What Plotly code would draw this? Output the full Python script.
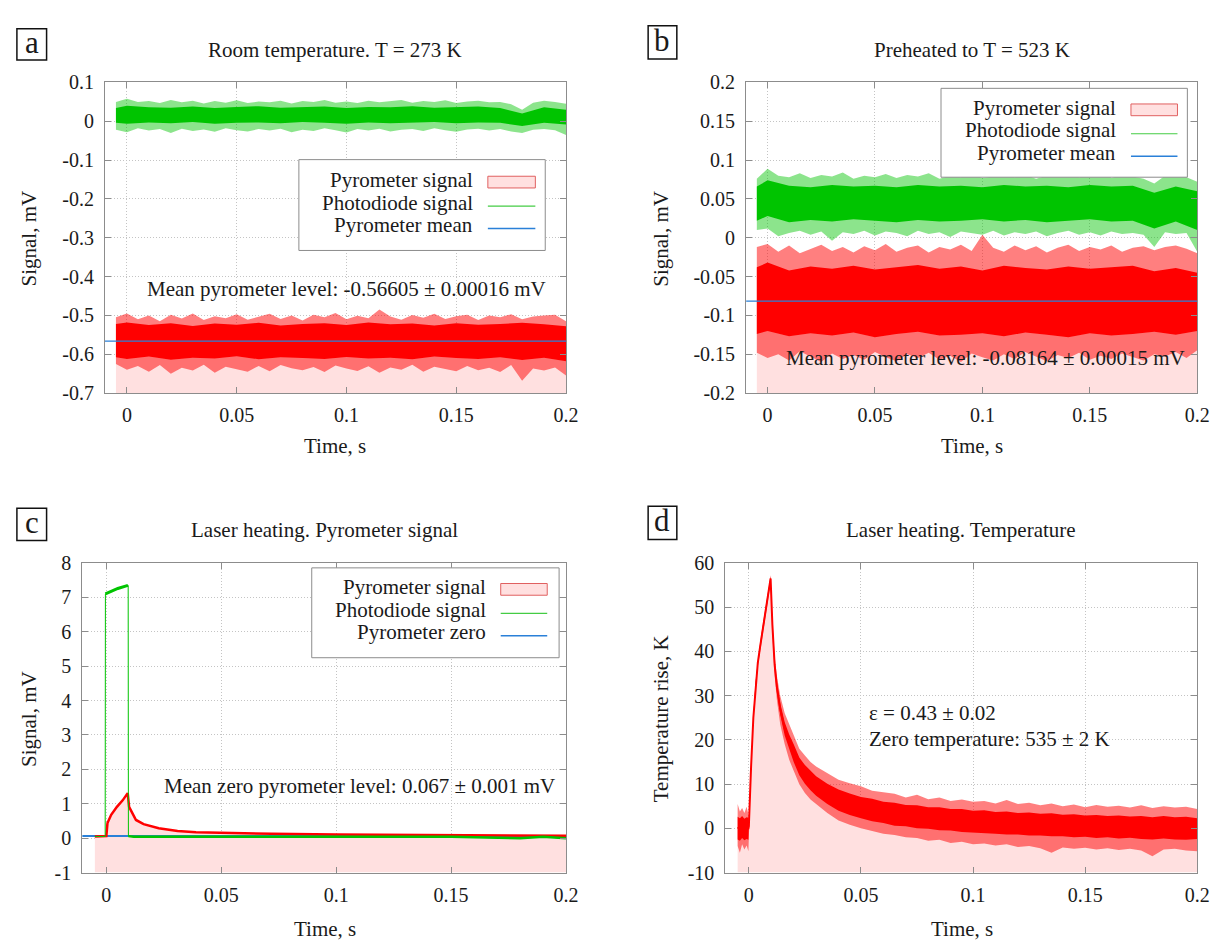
import plotly.graph_objects as go

W, H = 1226, 942
FONT = "Liberation Serif"

# ---------------- data ----------------
T = [-0.005, 0.0, 0.005, 0.01, 0.015, 0.02, 0.025, 0.03, 0.035, 0.04, 0.045, 0.05, 0.055, 0.06,
     0.065, 0.07, 0.075, 0.08, 0.085, 0.09, 0.095, 0.1, 0.105, 0.11, 0.115, 0.12, 0.125, 0.13,
     0.135, 0.14, 0.145, 0.15, 0.155, 0.16, 0.165, 0.17, 0.175, 0.18, 0.185, 0.19, 0.195, 0.2]
TC = [-0.005, 0.0, 0.01, 0.02, 0.03, 0.04, 0.05, 0.06, 0.07, 0.08, 0.09, 0.1, 0.11, 0.12, 0.13,
      0.14, 0.15, 0.16, 0.17, 0.18, 0.19, 0.2]

# panel a : room temperature
a_green_hi = [0.050, 0.058, 0.050, 0.052, 0.047, 0.055, 0.049, 0.053, 0.046, 0.052, 0.048, 0.054, 0.047, 0.051,
              0.049, 0.053, 0.046, 0.052, 0.050, 0.055, 0.048, 0.051, 0.047, 0.053, 0.049, 0.052, 0.055, 0.048,
              0.052, 0.050, 0.054, 0.047, 0.051, 0.053, 0.049, 0.050, 0.044, 0.030, 0.048, 0.053, 0.050, 0.045]
a_green_lo = [-0.022, -0.028, -0.018, -0.024, -0.020, -0.030, -0.019, -0.025, -0.021, -0.027, -0.018, -0.023,
              -0.026, -0.020, -0.024, -0.019, -0.028, -0.022, -0.025, -0.018, -0.023, -0.029, -0.020, -0.024,
              -0.019, -0.026, -0.022, -0.020, -0.025, -0.018, -0.023, -0.027, -0.021, -0.019, -0.024, -0.020,
              -0.026, -0.030, -0.022, -0.020, -0.023, -0.035]
a_green_core_hi = [0.034, 0.040, 0.036, 0.035, 0.038, 0.034, 0.037, 0.039, 0.035, 0.036, 0.038, 0.034, 0.037,
                   0.036, 0.039, 0.035, 0.037, 0.038, 0.034, 0.020, 0.036, 0.030]
a_green_core_lo = [-0.004, -0.006, -0.003, -0.005, -0.002, -0.006, -0.004, -0.003, -0.005, -0.002, -0.004,
                   -0.006, -0.003, -0.005, -0.004, -0.002, -0.005, -0.003, -0.004, -0.012, -0.004, -0.008]
a_red_hi = [-0.505, -0.495, -0.510, -0.500, -0.515, -0.498, -0.508, -0.495, -0.512, -0.502, -0.507, -0.497,
            -0.511, -0.503, -0.496, -0.509, -0.500, -0.513, -0.498, -0.505, -0.494, -0.510, -0.501, -0.507,
            -0.485, -0.503, -0.511, -0.499, -0.506, -0.496, -0.509, -0.502, -0.498, -0.512, -0.500, -0.505,
            -0.497, -0.510, -0.503, -0.500, -0.498, -0.515]
a_red_lo = [-0.625, -0.640, -0.630, -0.645, -0.628, -0.650, -0.635, -0.642, -0.627, -0.648, -0.632, -0.638,
            -0.645, -0.630, -0.644, -0.628, -0.636, -0.641, -0.633, -0.646, -0.629, -0.637, -0.643, -0.631,
            -0.648, -0.634, -0.640, -0.627, -0.645, -0.632, -0.638, -0.644, -0.630, -0.641, -0.635, -0.646,
            -0.628, -0.668, -0.637, -0.642, -0.634, -0.655]
a_red_core_hi = [-0.522, -0.518, -0.525, -0.520, -0.527, -0.521, -0.524, -0.519, -0.526, -0.522, -0.520, -0.525,
                 -0.518, -0.523, -0.521, -0.526, -0.520, -0.524, -0.522, -0.519, -0.523, -0.528]
a_red_core_lo = [-0.608, -0.612, -0.606, -0.614, -0.609, -0.611, -0.605, -0.613, -0.608, -0.610, -0.612, -0.607,
                 -0.611, -0.609, -0.613, -0.606, -0.610, -0.612, -0.608, -0.615, -0.609, -0.618]
a_mean = -0.56605

# panel b : preheated
b_green_hi = [0.076, 0.089, 0.080, 0.078, 0.083, 0.077, 0.081, 0.079, 0.084, 0.076, 0.080, 0.078, 0.082, 0.077,
              0.081, 0.079, 0.083, 0.076, 0.080, 0.078, 0.082, 0.077, 0.079, 0.083, 0.078, 0.081, 0.076, 0.080,
              0.079, 0.082, 0.078, 0.080, 0.092, 0.077, 0.081, 0.079, 0.076, 0.070, 0.080, 0.082, 0.078, 0.072]
b_green_lo = [0.010, 0.012, 0.002, 0.006, 0.009, 0.004, 0.008, -0.004, 0.007, 0.005, 0.009, 0.003, 0.008, 0.006,
              0.002, 0.009, 0.005, 0.007, 0.001, 0.008, 0.006, 0.004, 0.009, 0.003, 0.007, 0.005, 0.008, 0.002,
              0.006, 0.009, 0.004, 0.007, 0.003, 0.008, 0.005, 0.006, 0.004, -0.012, 0.007, 0.005, 0.006, -0.018]
b_green_core_hi = [0.066, 0.074, 0.067, 0.065, 0.068, 0.066, 0.067, 0.065, 0.068, 0.066, 0.067, 0.065, 0.068,
                   0.066, 0.067, 0.065, 0.068, 0.066, 0.067, 0.058, 0.066, 0.060]
b_green_core_lo = [0.022, 0.028, 0.020, 0.023, 0.021, 0.024, 0.022, 0.020, 0.023, 0.021, 0.022, 0.024, 0.021,
                   0.023, 0.020, 0.022, 0.024, 0.021, 0.022, 0.012, 0.021, 0.010]
b_red_hi = [-0.012, -0.008, -0.018, -0.010, -0.020, -0.014, -0.009, -0.017, -0.012, -0.019, -0.011, -0.016,
            -0.008, -0.018, -0.013, -0.010, -0.019, -0.012, -0.015, -0.009, -0.017, 0.004, -0.013, -0.018,
            -0.010, -0.016, -0.011, -0.019, -0.013, -0.009, -0.017, -0.012, -0.015, -0.010, -0.018, -0.013,
            -0.011, -0.016, -0.012, -0.010, -0.014, -0.020]
b_red_lo = [-0.148, -0.155, -0.150, -0.158, -0.146, -0.153, -0.160, -0.149, -0.156, -0.151, -0.157, -0.147,
            -0.154, -0.159, -0.150, -0.155, -0.148, -0.157, -0.152, -0.160, -0.149, -0.154, -0.158, -0.150,
            -0.156, -0.147, -0.153, -0.159, -0.151, -0.155, -0.148, -0.157, -0.152, -0.156, -0.149, -0.154,
            -0.158, -0.150, -0.153, -0.147, -0.155, -0.145]
b_red_core_hi = [-0.038, -0.032, -0.042, -0.037, -0.040, -0.036, -0.041, -0.038, -0.035, -0.040, -0.037, -0.042,
                 -0.036, -0.039, -0.041, -0.037, -0.040, -0.038, -0.036, -0.043, -0.039, -0.045]
b_red_core_lo = [-0.124, -0.120, -0.127, -0.123, -0.126, -0.122, -0.128, -0.124, -0.121, -0.126, -0.125, -0.123,
                 -0.127, -0.122, -0.125, -0.128, -0.123, -0.126, -0.124, -0.121, -0.125, -0.120]
b_mean = -0.08164

# panel c : laser heating, pyrometer signal
c_red_t = [-0.005, -0.001, 0.0, 0.0005, 0.0021, 0.0046, 0.0071, 0.0093, 0.0099, 0.0129, 0.0162, 0.0228,
           0.031, 0.039, 0.05, 0.072, 0.1, 0.15, 0.2]
c_red_v = [0.05, 0.05, 0.06, 0.44, 0.68, 0.91, 1.10, 1.31, 0.91, 0.53, 0.41, 0.29, 0.21, 0.17, 0.15, 0.13,
           0.11, 0.09, 0.07]
c_green_t = [-0.005, -0.0005, -0.0004, 0.002, 0.005, 0.0094, 0.0095, 0.0096, 0.012, 0.05, 0.1, 0.15, 0.18,
             0.19, 0.2]
c_green_v = [0.05, 0.05, 7.10, 7.18, 7.26, 7.35, 7.35, 0.06, 0.04, 0.04, 0.04, 0.04, 0.0, 0.04, 0.0]
c_plateau_t = [-0.0004, 0.002, 0.005, 0.0094]
c_plateau_v = [7.10, 7.18, 7.26, 7.35]
c_zero = 0.067

# panel d : temperature
Td = [-0.005, -0.004, -0.003, -0.002, -0.001, -0.0002, 0.0, 0.0005, 0.001, 0.002, 0.003, 0.004, 0.005,
      0.006, 0.007, 0.008, 0.009, 0.0097, 0.0105, 0.0115, 0.0125, 0.014, 0.016, 0.018, 0.02, 0.0225, 0.025,
      0.0275, 0.03, 0.035, 0.04, 0.045, 0.05, 0.055, 0.06, 0.065, 0.07, 0.075, 0.08, 0.085, 0.09, 0.095, 0.1,
      0.105, 0.11, 0.115, 0.12, 0.125, 0.13, 0.135, 0.14, 0.145, 0.15, 0.155, 0.16, 0.165, 0.17, 0.175, 0.18,
      0.185, 0.19, 0.195, 0.2]
d_mid = [0.0, 0.3, -0.2, 0.4, -0.1, 0.0, 0.5, 8.0, 14.0, 25.0, 32.5, 37.5, 41.0, 44.5, 47.5, 50.5, 54.0, 56.5,
         46.0, 37.0, 32.0, 27.0, 22.5, 19.5, 17.0, 14.0, 12.2, 10.8, 9.6, 7.8, 6.4, 5.4, 4.7, 4.1, 3.6, 3.2,
         2.9, 2.6, 2.4, 2.2, 2.0, 1.8, 1.6, 1.5, 1.3, 1.2, 1.1, 1.0, 0.9, 0.8, 0.7, 0.6, 0.5, 0.4, 0.4, 0.3,
         0.3, 0.2, 0.1, 0.2, 0.1, 0.0, 0.0]
d_core_hi = [2.6, 2.3, 2.8, 2.2, 2.5, 2.4, 1.5, 8.6, 14.6, 25.6, 33.1, 38.1, 41.6, 45.1, 48.1, 51.1, 54.6, 57.0,
             46.8, 38.0, 33.2, 28.3, 24.0, 21.2, 19.0, 16.0, 14.3, 13.0, 11.8, 10.1, 8.8, 7.9, 7.1, 6.7, 6.0,
             5.8, 5.3, 5.2, 4.8, 4.8, 4.4, 4.4, 4.0, 4.1, 3.7, 3.8, 3.5, 3.6, 3.3, 3.4, 3.1, 3.2, 2.9, 3.0, 2.8,
             2.9, 2.7, 2.8, 2.5, 2.8, 2.5, 2.6, 2.3]
d_core_lo = [-2.5, -2.8, -2.2, -2.7, -2.4, -2.6, -0.5, 7.4, 13.4, 24.4, 31.9, 36.9, 40.4, 43.9, 46.9, 49.9, 53.4,
             56.0, 45.2, 36.0, 30.8, 25.7, 21.0, 17.8, 15.0, 12.0, 10.1, 8.6, 7.4, 5.5, 4.0, 3.0, 2.3, 1.6, 1.2,
             0.6, 0.5, 0.0, -0.1, -0.4, -0.5, -0.8, -0.9, -1.1, -1.2, -1.4, -1.4, -1.6, -1.6, -1.8, -1.8, -2.0,
             -1.9, -2.2, -2.0, -2.3, -2.1, -2.4, -2.5, -2.3, -2.5, -2.6, -2.4]
d_out_hi = [5.5, 3.8, 4.6, 3.5, 4.9, 3.2, 2.0, 9.0, 15.0, 26.0, 33.5, 38.5, 42.0, 45.5, 48.5, 51.5, 55.0, 57.3,
            47.5, 39.0, 34.5, 30.0, 26.0, 23.5, 21.0, 18.0, 16.5, 15.0, 14.0, 12.5, 11.0, 10.2, 9.5, 8.5, 8.2,
            7.8, 7.0, 7.6, 6.6, 7.0, 6.2, 6.5, 6.0, 6.2, 5.6, 6.4, 5.5, 5.8, 5.2, 5.6, 5.0, 5.4, 4.8, 5.3, 4.9,
            5.1, 4.7, 5.2, 4.6, 5.0, 4.7, 4.9, 4.4]
d_out_lo = [-4.0, -5.5, -3.6, -4.8, -3.9, -5.2, -1.5, 7.0, 13.0, 24.0, 31.5, 36.5, 40.0, 43.5, 46.5, 49.5, 53.0,
            55.5, 44.0, 34.5, 29.0, 23.5, 19.0, 15.5, 13.0, 10.0, 8.0, 6.5, 5.5, 3.5, 1.8, 0.8, 0.0, -0.6, -1.2,
            -1.5, -2.0, -2.2, -2.8, -2.6, -3.3, -3.0, -3.6, -3.4, -3.9, -3.6, -4.2, -4.0, -4.5, -5.5, -4.3, -4.6,
            -4.4, -4.8, -4.5, -4.9, -4.6, -5.0, -6.3, -4.8, -4.6, -5.0, -5.2]

# axis ticks
x_ticks = [0, 0.05, 0.1, 0.15, 0.2]
x_labels = ["0", "0.05", "0.1", "0.15", "0.2"]
a_ticks = [0.1, 0, -0.1, -0.2, -0.3, -0.4, -0.5, -0.6, -0.7]
a_labels = ["0.1", "0", "-0.1", "-0.2", "-0.3", "-0.4", "-0.5", "-0.6", "-0.7"]
b_ticks = [0.2, 0.15, 0.1, 0.05, 0, -0.05, -0.1, -0.15, -0.2]
b_labels = ["0.2", "0.15", "0.1", "0.05", "0", "-0.05", "-0.1", "-0.15", "-0.2"]
c_ticks = [8, 7, 6, 5, 4, 3, 2, 1, 0, -1]
c_labels = ["8", "7", "6", "5", "4", "3", "2", "1", "0", "-1"]
d_ticks = [60, 50, 40, 30, 20, 10, 0, -10]
d_labels = ["60", "50", "40", "30", "20", "10", "0", "-10"]

# ---------------- styling ----------------
RED = "#ff0000"
RED_LIGHT = "rgba(255,0,0,0.5)"
GREEN = "#00c400"
GREEN_LIGHT = "rgba(0,196,0,0.45)"
BLUE = "#2a80d8"
PINK = "#ffe0e0"
BORDER = "#8c8c8c"
TXT = 21
TICK = 20


def px(x):
    return x / W


def py(y):
    return 1 - y / H


fig = go.Figure()

panels = {
    "a": dict(xa="x", ya="y", xr=[-0.01, 0.2], yr=[-0.7, 0.1], dom=(98, 564, 65, 383), yt=(a_ticks, a_labels)),
    "b": dict(xa="x2", ya="y2", xr=[-0.01, 0.2], yr=[-0.2, 0.2], dom=(746, 1202, 65, 383), yt=(b_ticks, b_labels)),
    "c": dict(xa="x3", ya="y3", xr=[-0.0105, 0.2], yr=[-1, 8], dom=(75, 564, 557, 874), yt=(c_ticks, c_labels)),
    "d": dict(xa="x4", ya="y4", xr=[-0.0105, 0.2], yr=[-10, 60], dom=(725, 1202, 557, 874), yt=(d_ticks, d_labels)),
}


def band(p, t, hi, lo, color):
    fig.add_trace(go.Scatter(x=list(t) + list(t)[::-1], y=list(hi) + list(lo)[::-1], fill="toself",
                             fillcolor=color, line=dict(width=0), mode="lines", hoverinfo="skip",
                             xaxis=p["xa"], yaxis=p["ya"], showlegend=False))


def pink(p, t, top):
    ymin = p["yr"][0]
    fig.add_trace(go.Scatter(x=list(t) + [t[-1], t[0]], y=list(top) + [ymin, ymin], fill="toself",
                             fillcolor=PINK, line=dict(width=0), mode="lines", hoverinfo="skip",
                             xaxis=p["xa"], yaxis=p["ya"], showlegend=False))


def line(p, t, v, color, width):
    fig.add_trace(go.Scatter(x=t, y=v, mode="lines", line=dict(color=color, width=width),
                             xaxis=p["xa"], yaxis=p["ya"], showlegend=False, hoverinfo="skip"))


# panel a
pa = panels["a"]
pink(pa, TC, a_red_core_lo)
band(pa, T, a_red_hi, a_red_lo, RED_LIGHT)
band(pa, TC, a_red_core_hi, a_red_core_lo, RED)
band(pa, T, a_green_hi, a_green_lo, GREEN_LIGHT)
band(pa, TC, a_green_core_hi, a_green_core_lo, GREEN)
line(pa, pa["xr"], [a_mean, a_mean], BLUE, 1.3)

# panel b
pb = panels["b"]
pink(pb, TC, b_red_core_lo)
band(pb, T, b_red_hi, b_red_lo, RED_LIGHT)
band(pb, TC, b_red_core_hi, b_red_core_lo, RED)
band(pb, T, b_green_hi, b_green_lo, GREEN_LIGHT)
band(pb, TC, b_green_core_hi, b_green_core_lo, GREEN)
line(pb, pb["xr"], [b_mean, b_mean], BLUE, 1.3)

# panel c
pc = panels["c"]
pink(pc, c_red_t, c_red_v)
line(pc, pc["xr"], [c_zero, c_zero], BLUE, 2)
line(pc, c_red_t, c_red_v, RED, 2.5)
line(pc, c_green_t, c_green_v, GREEN, 1)
line(pc, c_green_t[7:], c_green_v[7:], GREEN, 2.5)
line(pc, c_plateau_t, c_plateau_v, GREEN, 3)

# panel d
pd_ = panels["d"]
pink(pd_, Td, d_mid)
band(pd_, Td, d_out_hi, d_out_lo, RED_LIGHT)
band(pd_, Td, d_core_hi, d_core_lo, RED)
line(pd_, Td, d_mid, RED, 2)

# axes
layout = dict(width=W, height=H, margin=dict(l=0, r=0, t=0, b=0), paper_bgcolor="white",
              plot_bgcolor="white", showlegend=False)
for i, (k, p) in enumerate(panels.items()):
    sfx = "" if i == 0 else str(i + 1)
    x0, x1, y0, y1 = p["dom"]
    common = dict(showline=True, linecolor=BORDER, linewidth=1, mirror="ticks", ticks="inside",
                  ticklen=6, tickcolor=BORDER, showgrid=True, gridcolor="#c4c4c4", griddash="1px,2px",
                  gridwidth=1, zeroline=False, tickfont=dict(family=FONT, size=TICK, color="#1a1a1a"),
                  fixedrange=True)
    layout["xaxis" + sfx] = dict(common, domain=[px(x0), px(x1)], range=p["xr"], anchor="y" + sfx,
                                 tickvals=x_ticks, ticktext=x_labels, ticklabelstandoff=4)
    layout["yaxis" + sfx] = dict(common, domain=[py(y1), py(y0)], range=p["yr"], anchor="x" + sfx,
                                 tickvals=p["yt"][0], ticktext=p["yt"][1], ticklabelstandoff=6)
fig.update_layout(**layout)

ann = []
shapes = []


def text(s, x, y, size=TXT, xanchor="center", angle=0):
    ann.append(dict(text=s, x=px(x), y=py(y), xref="paper", yref="paper", showarrow=False,
                    xanchor=xanchor, yanchor="middle", textangle=angle,
                    font=dict(family=FONT, size=size, color="#1a1a1a")))


# titles
text("Room temperature. T = 273 K", 331, 32)
text("Preheated to T = 523 K", 974, 32)
text("Laser heating. Pyrometer signal", 320, 523)
text("Laser heating. Temperature", 963, 523)
# axis titles
text("Time, s", 331, 437)
text("Time, s", 974, 437)
text("Time, s", 320, 932)
text("Time, s", 964, 932)
text("Signal, mV", 21, 225, angle=-90)
text("Signal, mV", 660, 225, angle=-90)
text("Signal, mV", 21, 717, angle=-90)
text("Temperature rise, K", 660, 717, angle=-90)
# in-plot notes
text("Mean pyrometer level: -0.56605 ± 0.00016 mV", 342, 276)
text("Mean pyrometer level: -0.08164 ± 0.00015 mV", 988, 347)
text("Mean zero pyrometer level: 0.067 ± 0.001 mV", 355, 785)
text("ε = 0.43 ± 0.02", 868, 711, xanchor="left")
text("Zero temperature: 535 ± 2 K", 868, 737, xanchor="left")

# panel letters
for letter, (x0, y0, x1, y1) in {"a": (9, 10, 39, 42), "b": (647, 7, 676, 41),
                                  "c": (9, 501, 39, 534), "d": (647, 499, 676, 533)}.items():
    shapes.append(dict(type="rect", xref="paper", yref="paper", x0=px(x0), x1=px(x1), y0=py(y1), y1=py(y0),
                       line=dict(color="#111", width=1.5), fillcolor="white"))
    text(letter, (x0 + x1) / 2, (y0 + y1) / 2 - 2, size=31)


# legends
def legend(box, tr, s0, s1, rows, names):
    x0, y0, x1, y1 = box
    shapes.append(dict(type="rect", xref="paper", yref="paper", x0=px(x0), x1=px(x1), y0=py(y1), y1=py(y0),
                       line=dict(color=BORDER, width=1), fillcolor="white"))
    for r, n in zip(rows, names):
        text(n, tr, r, xanchor="right")
    r = rows[0] + 2
    shapes.append(dict(type="rect", xref="paper", yref="paper", x0=px(s0), x1=px(s1), y0=py(r + 6),
                       y1=py(r - 6), line=dict(color="#e06060", width=1), fillcolor=PINK))
    shapes.append(dict(type="line", xref="paper", yref="paper", x0=px(s0), x1=px(s1), y0=py(rows[1] + 3.5),
                       y1=py(rows[1] + 3.5), line=dict(color="#44cc44", width=1.2)))
    shapes.append(dict(type="line", xref="paper", yref="paper", x0=px(s0), x1=px(s1), y0=py(rows[2] + 3.5),
                       y1=py(rows[2] + 3.5), line=dict(color=BLUE, width=1.5)))


legend((294, 144, 543, 237), 472, 485, 533, [165, 188, 211],
       ["Pyrometer signal", "Photodiode signal", "Pyrometer mean"])
legend((943, 71, 1192, 162), 1122, 1135, 1182, [91, 114, 137],
       ["Pyrometer signal", "Photodiode signal", "Pyrometer mean"])
legend((307, 562, 557, 654), 485, 498, 545, [582, 605, 628],
       ["Pyrometer signal", "Photodiode signal", "Pyrometer zero"])

fig.update_layout(annotations=ann, shapes=shapes)
fig.write_html("out.html")
